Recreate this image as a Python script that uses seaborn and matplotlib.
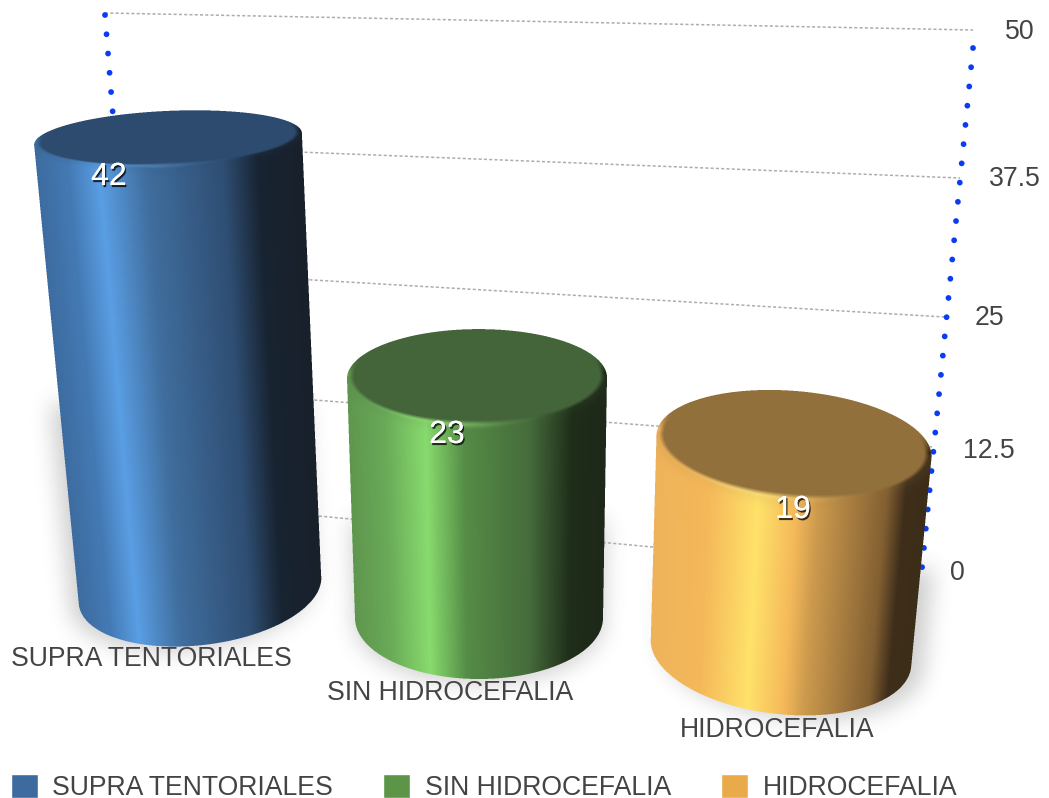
import numpy as np
import pandas as pd
import matplotlib
matplotlib.use("Agg")
import matplotlib.pyplot as plt
import matplotlib.patheffects as pe
import seaborn as sns

# ---- data ----
CATEGORIES = ["SUPRA TENTORIALES", "SIN HIDROCEFALIA", "HIDROCEFALIA"]
VALUES = [42, 23, 19]
TICK_VALUES = [0, 12.5, 25, 37.5, 50]
COLORS = ["#3d6ba0", "#5c9448", "#e9ab49"]

# ---- style / layout (pixels, y down) ----
W, H = 1049, 798
sns.set_theme(style="white")
plt.rcParams["font.family"] = ["Liberation Sans", "DejaVu Sans"]
plt.rcParams["lines.scale_dashes"] = False
TXT = "#444444"
FS = 19.15

GEOM = [
    dict(px_per=10.74, top=(168, 134, 28, -2.6), bottom=(200, 590, 122, 55, -7.0),
         flat="#2d4b6e", light="#6fb4f5",
         stops=[(0, (61, 108, 160)), (.12, (68, 122, 180)), (.235, (90, 158, 228)), (.41, (64, 110, 158)),
                (.70, (47, 78, 115)), (.83, (24, 36, 50)), (1, (24, 32, 42))]),
    dict(px_per=10.43, top=(477, 130, 49, -0.3), bottom=(479, 618, 124, 61, 0.0),
         flat="#44643a", light="#9be47e",
         stops=[(0, (95, 150, 78)), (.14, (105, 170, 88)), (.30, (136, 219, 110)), (.45, (85, 140, 70)),
                (.70, (70, 108, 60)), (.87, (30, 45, 25)), (1, (30, 40, 25))]),
    dict(px_per=10.84, top=(794, 138, 55, 5.0), bottom=(781, 652, 131, 62, 6.6),
         flat="#92703c", light="#ffdf80",
         stops=[(0, (238, 178, 90)), (.20, (245, 185, 90)), (.38, (255, 226, 106)), (.52, (245, 185, 90)),
                (.60, (205, 155, 78)), (.85, (130, 95, 50)), (.92, (62, 46, 26)), (1, (60, 45, 25))]),
]
SHADOW_SHIFT = [(-8, 4), (0, 4), (12, 4)]
GRID_ENDS = [((135, 499), (922, 572)), ((130, 386), (932, 447)), ((125, 269), (945, 317)),
             ((120, 145), (960, 178)), ((105, 13), (973, 30))]
TICK_POS = [(957, 573), (989, 451), (990, 318), (1015, 179), (1020, 32)]
CAT_POS = [(151, 659), (450, 693), (777, 730)]
LABEL_POS = [(109, 177), (447, 435), (793, 510)]
BAR_UNIT = 10.7


def to_rgb_arr(c):
    return np.array(matplotlib.colors.to_rgb(c)) * 255


def ell(X, Y, cx, cy, a, b, th):
    c, s = np.cos(th), np.sin(th)
    u = ((X - cx) * c + (Y - cy) * s) / a
    v = (-(X - cx) * s + (Y - cy) * c) / b
    return u, v


def render(g, cy_top, ss=3):
    cx, a, b, thd = g["top"]
    cy = cy_top
    th = np.radians(thd)
    bx, by, ba, bb, bthd = g["bottom"]
    bth = np.radians(bthd)
    xs = (np.arange(W * ss) + .5) / ss
    ys = (np.arange(H * ss) + .5) / ss
    x0 = max(int(cx - a - 10) * ss, 0)
    x1 = int(max(cx + a, bx + ba) + 10) * ss
    y0 = int(cy - b - 14) * ss
    y1 = min(int(by + bb + 14) * ss, H * ss)
    X, Y = np.meshgrid(xs[x0:x1], ys[y0:y1])
    TL = (cx - a * np.cos(th), cy - a * np.sin(th))
    TR = (cx + a * np.cos(th), cy + a * np.sin(th))
    BL = (bx - ba * np.cos(bth), by - ba * np.sin(bth))
    BR = (bx + ba * np.cos(bth), by + ba * np.sin(bth))
    L = TL[0] + (Y - TL[1]) * (BL[0] - TL[0]) / (BL[1] - TL[1])
    R = TR[0] + (Y - TR[1]) * (BR[0] - TR[0]) / (BR[1] - TR[1])
    t = np.clip((X - L) / (R - L), 0, 1)
    pos = [p for p, _ in g["stops"]]
    rgb = np.stack([np.interp(t, pos, [c[i] for _, c in g["stops"]]) for i in range(3)], -1)

    u, v = ell(X, Y, cx, cy, a, b, th)
    bu, bv = ell(X, Y, bx, by, ba, bb, bth)
    topline = TL[1] + (X - TL[0]) * (TR[1] - TL[1]) / (TR[0] - TL[0])
    botline = BL[1] + (X - BL[0]) * (BR[1] - BL[1]) / (BR[0] - BL[0])
    inside = (u**2 + v**2 <= 1) | (bu**2 + bv**2 <= 1) | ((X >= L) & (X <= R) & (Y >= topline) & (Y <= botline))

    fa, fb = .96 * a, .95 * b
    fu, fv = ell(X, Y, cx, cy - .05 * b, fa, fb, th)
    rf = np.maximum(np.sqrt(fu**2 + fv**2), 1e-6)
    d = (rf - 1) * np.sqrt((fa * fu)**2 + (fb * fv)**2) / rf
    flat = to_rgb_arr(g["flat"])
    light = to_rgb_arr(g["light"])
    # upper rim fades into the flat top colour
    upper = np.clip((-fv - .05) / .3, 0, 1)[..., None] * (u**2 + v**2 <= 1.02)[..., None]
    rgb = rgb * (1 - upper) + flat * upper
    # soft band below the rim
    band = (np.exp(-(np.maximum(d, 0) / 10.0)**2) * (fv > 0))[..., None]
    rgb = rgb * (1 - .14 * band) + flat * .14 * band
    # specular highlight along the front of the rim
    hw = b * .09
    w = np.exp(-(d / hw)**2) * np.exp(-((fu + .28) / .42)**2) * np.clip(fv * 4, 0, 1)
    rgb = rgb * (1 - w[..., None] * .85) + light * w[..., None] * .85
    # flat top with a soft bevel edge
    s = np.clip(d / 5 + .4, 0, 1)[..., None]
    rgb = flat * (1 - s) + rgb * s

    full_a = np.zeros((H, W))
    full_rgb = np.zeros((H, W, 3))
    h_, w_ = inside.shape
    hs, ws = h_ // ss, w_ // ss
    A = inside[:hs * ss, :ws * ss].reshape(hs, ss, ws, ss).mean(axis=(1, 3))
    C = (rgb * inside[..., None])[:hs * ss, :ws * ss].reshape(hs, ss, ws, ss, 3).mean(axis=(1, 3))
    ya, xa = y0 // ss, x0 // ss
    full_a[ya:ya + hs, xa:xa + ws] = A
    full_rgb[ya:ya + hs, xa:xa + ws] = C
    out = np.where(full_a[..., None] > 0, full_rgb / np.maximum(full_a[..., None], 1e-6), 0)
    return np.dstack([np.clip(out / 255, 0, 1), full_a])


def box(arr, r, axis):
    pad = [(0, 0), (0, 0)]
    pad[axis] = (r + 1, r)
    c = np.cumsum(np.pad(arr, pad, mode="edge"), axis=axis)
    if axis == 0:
        return (c[2 * r + 1:, :] - c[:-(2 * r + 1), :]) / (2 * r + 1)
    return (c[:, 2 * r + 1:] - c[:, :-(2 * r + 1)]) / (2 * r + 1)


def blur(arr, r, n=3):
    for _ in range(n):
        arr = box(box(arr, r, 0), r, 1)
    return arr


# ---- figure ----
fig = plt.figure(figsize=(W / 100, H / 100), dpi=100, facecolor="white")
ax = fig.add_axes([0, 0, 1, 1], zorder=1)
df = pd.DataFrame({"category": CATEGORIES, "value": VALUES})
sns.barplot(data=df, x="category", y="value", hue="category", palette=COLORS,
            saturation=1, legend=False, ax=ax)
ax.set_xlim(0, W)
ax.set_ylim(0, H / BAR_UNIT)
ax.axis("off")
bars = list(ax.patches)

ax_px = fig.add_axes([0, 0, 1, 1], zorder=2)
ax_px.patch.set_alpha(0)
ax_px.axis("off")

images = []
for i, (bar, g) in enumerate(zip(bars, GEOM)):
    bx, by, ba, bb, _ = g["bottom"]
    top_y = by - bar.get_height() * g["px_per"]
    # the library's bar sits inside the cylinder body
    bar.set_x(bx - 90)
    bar.set_width(180)
    bar.set_y((H - by) / BAR_UNIT)
    rgba = render(g, top_y)
    images.append(rgba)
    # soft cast shadow of the lower part of the cylinder
    mask = rgba[..., 3].copy()
    mask[:int(top_y + .58 * (by - top_y))] = 0
    dx, dy = SHADOW_SHIFT[i]
    mask = np.roll(np.roll(mask, dx, axis=1), dy, axis=0)
    sh = blur(mask, 10) * .3
    ax_px.imshow(np.dstack([np.full_like(sh, .35)] * 3 + [sh]), extent=(0, W, H, 0),
                 aspect="auto", interpolation="nearest", zorder=1)

for ((x0, y0), (x1, y1)) in GRID_ENDS:
    ax_px.plot([x0, x1], [y0, y1], color="#adadad", lw=1.1, ls=(0, (2.2, 1.6)), zorder=2)

for pts in [((105, 15), (113, 116)), ((973, 48), (922, 568))]:
    ax_px.plot(*zip(*pts), color="#0a3cf5", lw=4.2, ls=(0, (.01, 13.9)),
               dash_capstyle="round", zorder=3)

for n, rgba in enumerate(images):
    ax_px.imshow(rgba, extent=(0, W, H, 0), aspect="auto", interpolation="nearest", zorder=4 + n)

for v, (x, y) in zip(TICK_VALUES, TICK_POS):
    ax_px.text(x, y, f"{v:g}", color=TXT, fontsize=FS, ha="center", va="center", zorder=10)

for c, (x, y) in zip(CATEGORIES, CAT_POS):
    ax_px.text(x, y, c, color=TXT, fontsize=FS, ha="center", va="center", zorder=10)

shadow = [pe.withSimplePatchShadow(offset=(1.0, -1.5), shadow_rgbFace="#000000", alpha=.75), pe.Normal()]
for v, (x, y) in zip(VALUES, LABEL_POS):
    ax_px.text(x, y, str(v), color="white", fontsize=23, ha="center", va="center",
               zorder=11, path_effects=shadow)

ax_px.set_xlim(0, W)
ax_px.set_ylim(H, 0)

ax_px.legend(handles=bars, labels=CATEGORIES, ncol=3, frameon=False, loc="lower left",
             bbox_to_anchor=(11, 801), bbox_transform=ax_px.transData,
             borderpad=0, borderaxespad=0, fontsize=FS, labelcolor=TXT,
             handlelength=1.0, handleheight=1.0, handletextpad=.56, columnspacing=1.88)

fig.savefig("out.png", dpi=100, facecolor="white")
